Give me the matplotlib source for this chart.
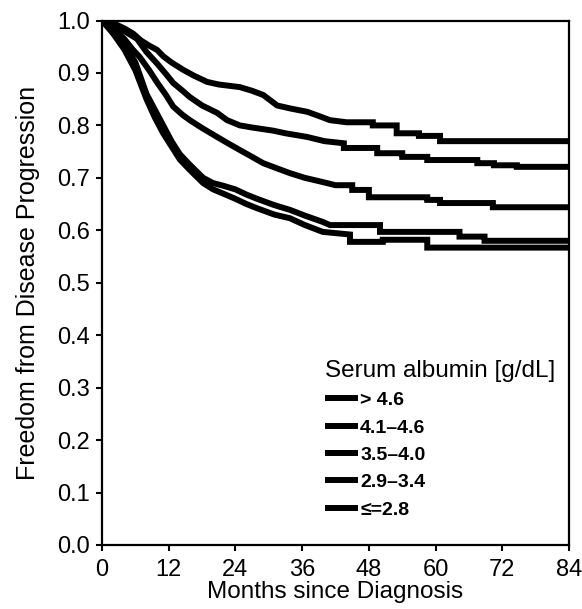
import matplotlib
matplotlib.use("Agg")
import matplotlib.pyplot as plt

plt.rcParams["font.family"] = ["Liberation Sans", "DejaVu Sans"]

# Kaplan-Meier readings (months, freedom from progression); repeated months are drops
MONTHS_GT46 = [0, 2, 4, 5.6, 7, 8.5, 9.9, 11, 12.5, 14.6, 16.5, 18.9, 21, 24.8, 27, 29,
               31.5, 34, 36.9, 39, 41, 44, 48.7, 48.7, 53, 53, 57, 57, 60.8, 60.8, 84]
SURV_GT46 = [1.0, .995, .985, .975, .962, .952, .944, .932, .92, .906, .895, .883, .878,
             .873, .866, .858, .838, .832, .826, .818, .81, .806, .806, .80, .80, .785,
             .785, .78, .78, .77, .77]

MONTHS_41_46 = [0, 2, 4, 6.3, 8, 9.9, 11.5, 12.8, 14.5, 15.8, 18, 20.7, 22.5, 24.8, 27,
                30.8, 33, 36.9, 40, 43.5, 43.5, 49.5, 49.5, 54, 54, 58.5, 58.5, 67.5,
                67.5, 70.5, 70.5, 74.6, 74.6, 84]
SURV_41_46 = [1.0, .99, .98, .965, .94, .918, .898, .881, .866, .854, .838, .824, .81,
              .80, .796, .79, .785, .778, .77, .766, .757, .757, .747, .747, .74, .74,
              .734, .734, .728, .728, .724, .724, .721, .721]

MONTHS_35_40 = [0, 2, 4, 5.5, 6.8, 8.5, 9.9, 11.5, 12.8, 14.5, 15.8, 18, 20.7, 22.8,
                24.8, 27, 29, 31.5, 33.8, 36.5, 39.7, 42, 45, 45, 48, 48, 58.5, 58.5,
                60.8, 60.8, 70.3, 70.3, 84]
SURV_35_40 = [1.0, .985, .965, .945, .93, .905, .882, .858, .836, .82, .81, .795, .778,
              .765, .753, .74, .728, .718, .709, .70, .692, .686, .686, .677, .677,
              .663, .663, .658, .658, .652, .652, .644, .644]

MONTHS_29_34 = [0, 2, 4, 6, 8, 9.5, 11, 12.5, 14, 15.8, 18.2, 20, 21.8, 24, 26, 27.9,
                31, 33.8, 36.5, 39.7, 41, 50, 50, 64.3, 64.3, 68.8, 68.8, 84]
SURV_29_34 = [1.0, .98, .955, .92, .86, .83, .80, .77, .745, .725, .70, .69, .685, .678,
              .668, .66, .648, .639, .628, .616, .61, .61, .597, .597, .588, .588, .58,
              .58]

MONTHS_LE28 = [0, 2, 4, 6, 8, 9.5, 11, 12.5, 14, 15.8, 18.2, 20, 21.8, 24, 26, 27.9,
               31, 33.8, 36.5, 39.7, 44.6, 44.6, 50.5, 50.5, 58.5, 58.5, 84]
SURV_LE28 = [1.0, .975, .945, .905, .85, .815, .785, .76, .735, .715, .69, .678, .67,
             .66, .65, .642, .63, .623, .61, .597, .592, .578, .578, .582, .582, .567,
             .567]

LABELS = ["> 4.6", "4.1\u20134.6", "3.5\u20134.0", "2.9\u20133.4", "\u2264=2.8"]
SERIES = [(MONTHS_GT46, SURV_GT46), (MONTHS_41_46, SURV_41_46),
          (MONTHS_35_40, SURV_35_40), (MONTHS_29_34, SURV_29_34),
          (MONTHS_LE28, SURV_LE28)]

X_TICKS = [0, 12, 24, 36, 48, 60, 72, 84]
Y_TICKS = [0.0, 0.1, 0.2, 0.3, 0.4, 0.5, 0.6, 0.7, 0.8, 0.9, 1.0]

fig = plt.figure(figsize=(5.82, 6.09), dpi=100)
ax = fig.add_axes([0.1753, 0.1051, 0.8024, 0.8612])

for (t, s), lab in zip(SERIES, LABELS):
    ax.plot(t, s, color="black", linewidth=4.3, solid_joinstyle="miter",
            solid_capstyle="butt", label=lab)

ax.set_xlim(0, 84)
ax.set_ylim(0, 1.0)
ax.set_xticks(X_TICKS)
ax.set_yticks(Y_TICKS)
ax.set_yticklabels([f"{v:.1f}" for v in Y_TICKS])
ax.tick_params(direction="out", length=4, width=1.5, labelsize=17, colors="black")
ax.tick_params(axis="y", pad=5)
ax.tick_params(axis="x", pad=6)
for sp in ax.spines.values():
    sp.set_linewidth(1.6)

ax.set_xlabel("Months since Diagnosis", fontsize=17.5, labelpad=0)
ax.set_ylabel("Freedom from Disease Progression", fontsize=18, labelpad=12)

leg = ax.legend(loc="upper left", bbox_to_anchor=(0.558, 0.409),
                bbox_transform=fig.transFigure, frameon=False,
                title="Serum albumin [g/dL]", alignment="left",
                prop={"size": 14, "weight": "bold"}, title_fontsize=17.5,
                handlelength=1.7, handletextpad=0.12, labelspacing=0.5,
                borderpad=0, borderaxespad=0)
for h in leg.get_lines():
    h.set_linewidth(4.3)

fig.savefig("out.png", dpi=100, facecolor="white")
